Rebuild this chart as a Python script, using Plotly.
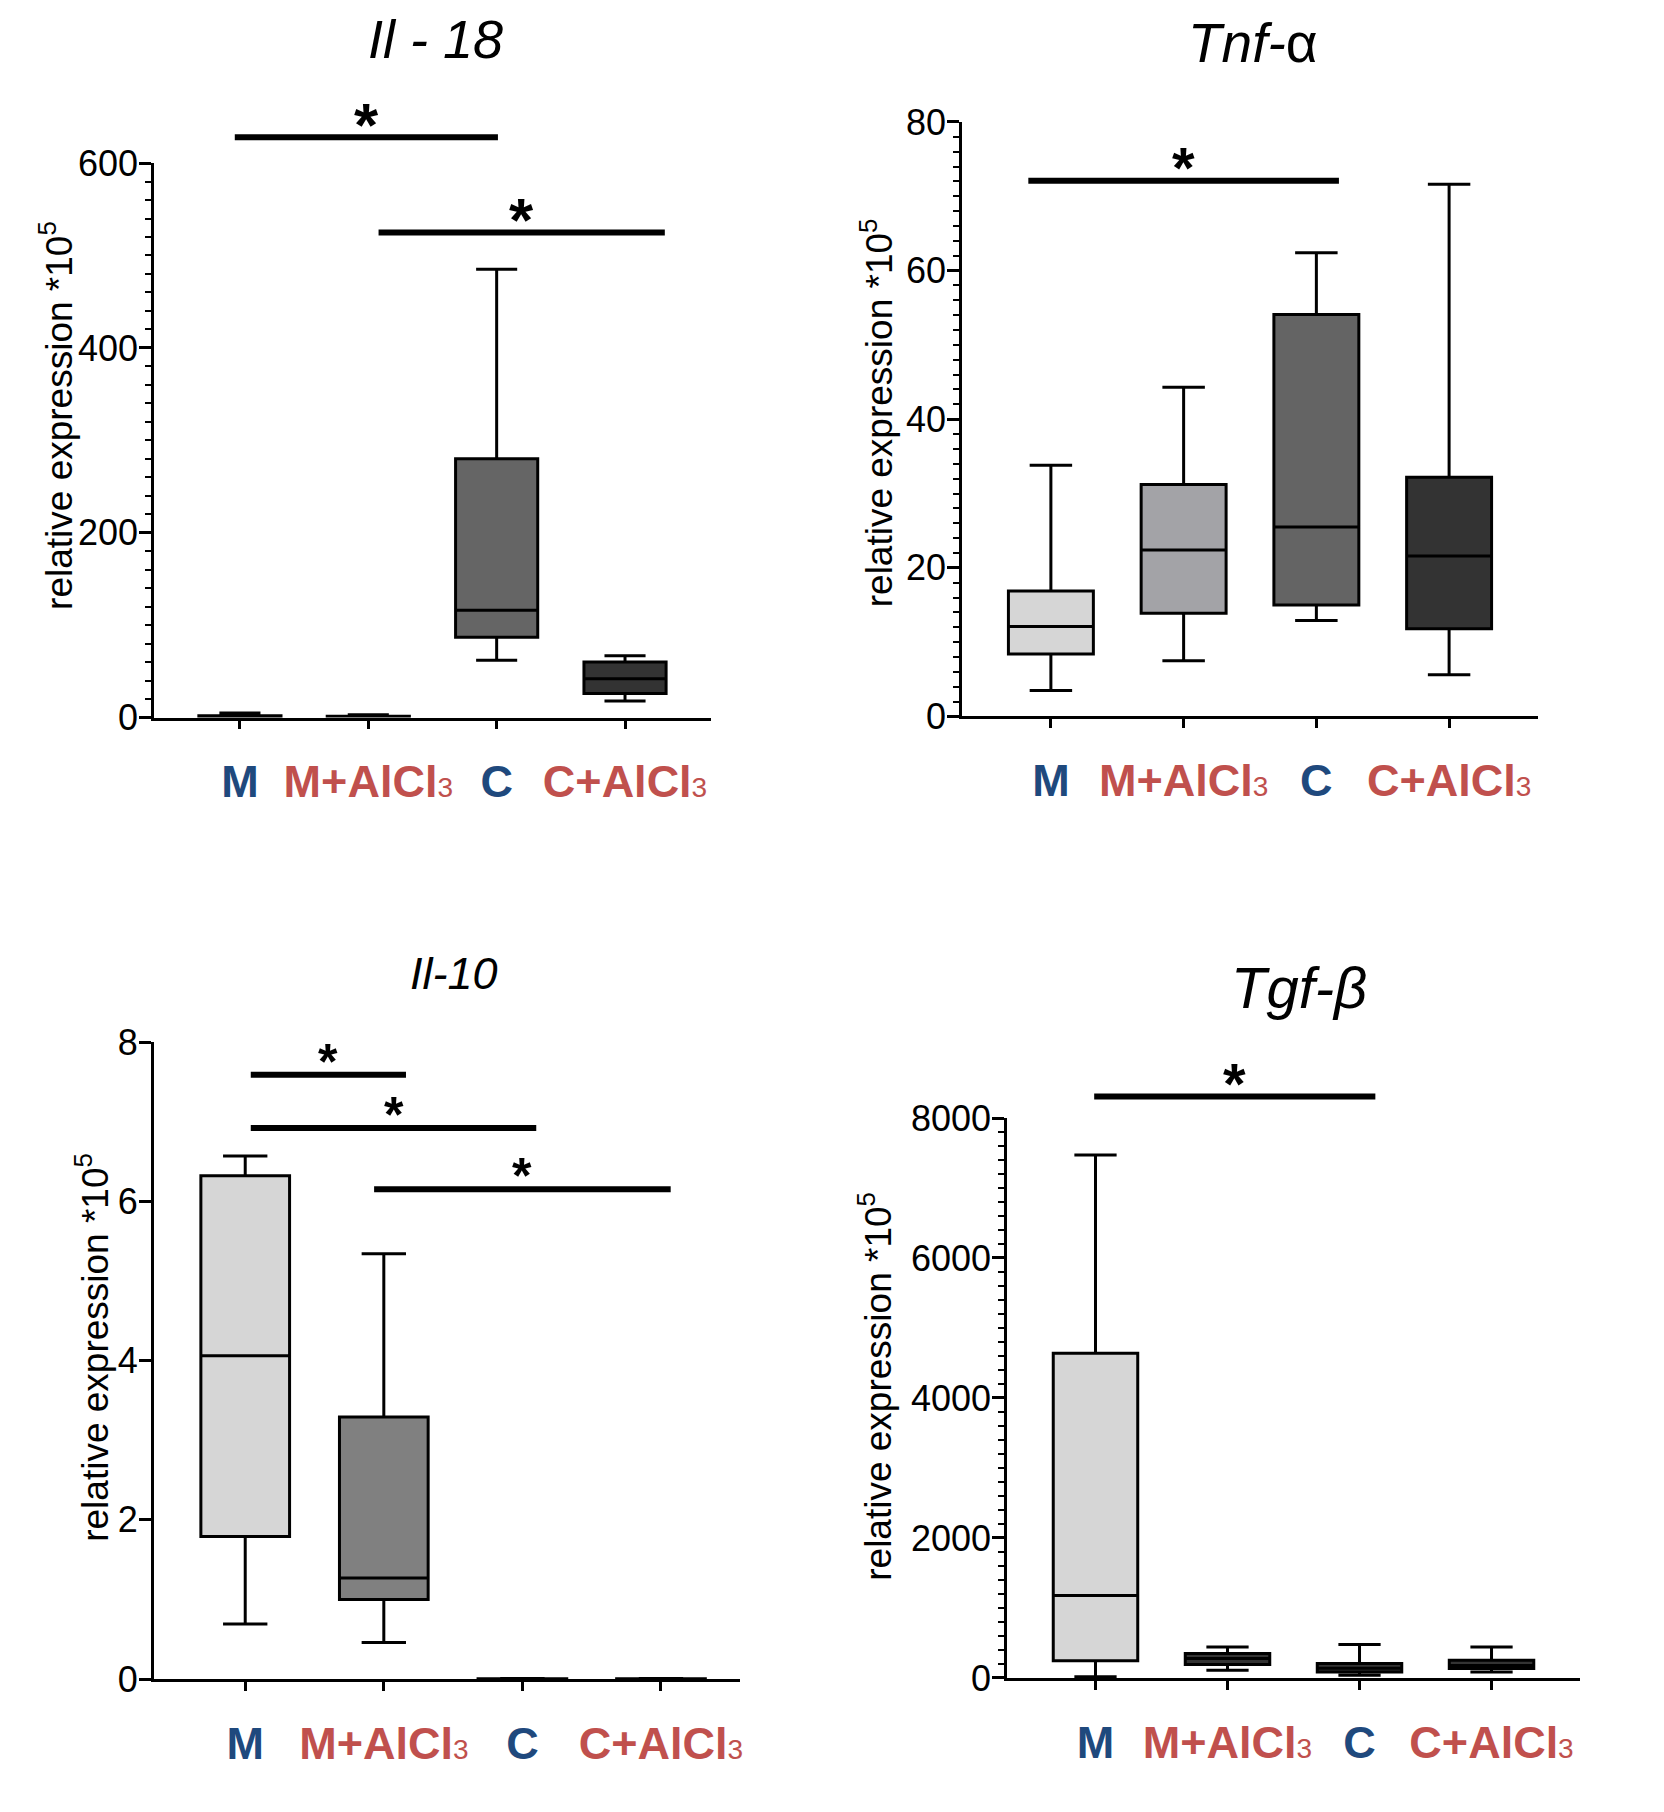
import plotly.graph_objects as go

FONT = "Liberation Sans, Arial, sans-serif"

# ---------------- data ----------------
groups = ["M", "M+AlCl3", "C", "C+AlCl3"]
group_label_colors = ["#1F497D", "#C0504D", "#1F497D", "#C0504D"]
positions = [0, 1, 2, 3]
y_title = "relative expression *10<sup>5</sup>"

# Il-18
il18_lower = [0.3, 0.2, 62, 18]
il18_q1 = [0.6, 0.5, 87, 26]
il18_median = [1.2, 0.9, 116, 42]
il18_q3 = [2.0, 1.3, 280, 60]
il18_upper = [5.0, 3.0, 485, 67]
il18_fill = ["#d4d4d4", "#9f9fa3", "#656565", "#333333"]
il18_sig_x0 = [-0.04, 1.08]
il18_sig_x1 = [2.01, 3.31]
il18_sig_y = [628, 525]

# Tnf-alpha
tnf_lower = [3.5, 7.5, 12.9, 5.6]
tnf_q1 = [8.4, 13.9, 15.0, 11.8]
tnf_median = [12.1, 22.4, 25.5, 21.6]
tnf_q3 = [16.9, 31.2, 54.1, 32.2]
tnf_upper = [33.8, 44.3, 62.4, 71.6]
tnf_fill = ["#d6d6d6", "#a3a3a7", "#646464", "#333333"]
tnf_sig_x0 = [-0.17]
tnf_sig_x1 = [2.17]
tnf_sig_y = [72.1]

# Il-10
il10_lower = [0.69, 0.46, 0.001, 0.001]
il10_q1 = [1.79, 1.0, 0.002, 0.002]
il10_median = [4.06, 1.27, 0.003, 0.003]
il10_q3 = [6.32, 3.29, 0.004, 0.004]
il10_upper = [6.57, 5.34, 0.006, 0.006]
il10_fill = ["#d6d6d6", "#808080", "#333333", "#333333"]
il10_sig_x0 = [0.04, 0.04, 0.93]
il10_sig_x1 = [1.16, 2.10, 3.07]
il10_sig_y = [7.59, 6.92, 6.15]

# Tgf-beta
tgf_lower = [16, 110, 38, 86]
tgf_q1 = [244, 191, 86, 133]
tgf_median = [1178, 276, 138, 176]
tgf_q3 = [4638, 348, 205, 253]
tgf_upper = [7472, 443, 476, 443]
tgf_fill = ["#d6d6d6", "#333333", "#333333", "#333333"]
tgf_sig_x0 = [-0.01]
tgf_sig_x1 = [2.12]
tgf_sig_y = [8309]

panels = [
    dict(title="<i>Il - 18</i>", tsize=54, tx=0.505, ty=0.9785, lower=il18_lower, q1=il18_q1,
         med=il18_median, q3=il18_q3, upper=il18_upper, fill=il18_fill, top=600, dtick=200, minor=20,
         sx0=il18_sig_x0, sx1=il18_sig_x1, sy=il18_sig_y, star=62, ytx=57 / 1664, yty=0.544,
         xdom=[0.0925, 0.4273], xr=[-0.67, 3.67], ydom=[0.6040, 0.9100]),
    dict(title="<i>Tnf-</i>α", tsize=55, tx=0.505, ty=0.9763, lower=tnf_lower, q1=tnf_q1,
         med=tnf_median, q3=tnf_q3, upper=tnf_upper, fill=tnf_fill, top=80, dtick=20, minor=2,
         sx0=tnf_sig_x0, sx1=tnf_sig_x1, sy=tnf_sig_y, star=58, ytx=877 / 1664, yty=0.51,
         xdom=[0.5781, 0.9243], xr=[-0.67, 3.67], ydom=[0.6046, 0.9327]),
    dict(title="<i>Il-10</i>", tsize=45, tx=0.513, ty=0.4627, lower=il10_lower, q1=il10_q1,
         med=il10_median, q3=il10_q3, upper=il10_upper, fill=il10_fill, top=8, dtick=2, minor=None,
         sx0=il10_sig_x0, sx1=il10_sig_x1, sy=il10_sig_y, star=50, ytx=93 / 1664, yty=0.52,
         xdom=[0.0924, 0.4447], xr=[-0.66, 3.57], ydom=[0.0734, 0.4249]),
    dict(title="<i>Tgf-β</i>", tsize=58, tx=0.51, ty=0.4550, lower=tgf_lower, q1=tgf_q1,
         med=tgf_median, q3=tgf_q3, upper=tgf_upper, fill=tgf_fill, top=8000, dtick=2000, minor=200,
         sx0=tgf_sig_x0, sx1=tgf_sig_x1, sy=tgf_sig_y, star=58, ytx=876 / 1664, yty=0.52,
         xdom=[0.6052, 0.9495], xr=[-0.67, 3.67], ydom=[0.0740, 0.3830]),
]


def tick_label(name, color):
    if name.endswith("3"):
        return (f'<b style="color:{color}">{name[:-1]}</b>'
                f'<span style="color:{color};font-size:28px">3</span>')
    return f'<b style="color:{color}">{name}</b>'


ticktext = [tick_label(g, c) for g, c in zip(groups, group_label_colors)]

fig = go.Figure()
shapes = []
annotations = []
layout_axes = {}

for i, p in enumerate(panels):
    n = "" if i == 0 else str(i + 1)
    xa, ya = "x" + n, "y" + n
    for k in range(len(groups)):
        fig.add_trace(go.Box(
            x=[positions[k]], q1=[p["q1"][k]], median=[p["med"][k]], q3=[p["q3"][k]],
            lowerfence=[p["lower"][k]], upperfence=[p["upper"][k]],
            fillcolor=p["fill"][k], line=dict(color="black", width=3),
            whiskerwidth=0.5, width=0.64, boxpoints=False,
            xaxis=xa, yaxis=ya, showlegend=False, hoverinfo="skip"))
    yaxis = dict(
        domain=p["ydom"], anchor=xa, range=[0, p["top"]], dtick=p["dtick"], tick0=0,
        showline=True, linecolor="black", linewidth=2.5, ticks="outside", ticklen=12,
        tickwidth=2.5, tickcolor="black", showgrid=False, zeroline=False, automargin=False,
        ticklabelstandoff=-6, tickfont=dict(family=FONT, size=36, color="black"),
    )
    if p["minor"]:
        yaxis["minor"] = dict(dtick=p["minor"], tick0=0, ticks="outside", ticklen=6,
                              tickwidth=2, tickcolor="black", showgrid=False)
    xaxis = dict(
        domain=p["xdom"], anchor=ya, range=p["xr"], tickvals=positions, ticktext=ticktext,
        showline=True, linecolor="black", linewidth=2.5, ticks="outside", ticklen=9,
        tickwidth=2.5, tickcolor="black", showgrid=False, zeroline=False, automargin=False,
        ticklabelstandoff=14, tickfont=dict(family=FONT, size=45),
    )
    layout_axes["xaxis" + n] = xaxis
    layout_axes["yaxis" + n] = yaxis

    annotations.append(dict(text=p["title"], xref=xa + " domain", x=p["tx"], yref="paper", y=p["ty"],
                            showarrow=False, xanchor="center", yanchor="middle",
                            font=dict(family=FONT, size=p["tsize"], color="black")))
    annotations.append(dict(text=y_title, xref="paper", x=p["ytx"], yref=ya + " domain", y=p["yty"],
                            textangle=-90, showarrow=False, xanchor="center", yanchor="middle",
                            font=dict(family=FONT, size=37, color="black")))
    for x0, x1, yv in zip(p["sx0"], p["sx1"], p["sy"]):
        yd = yv / p["top"]
        shapes.append(dict(type="line", xref=xa, yref=ya + " domain", x0=x0, x1=x1, y0=yd, y1=yd,
                           line=dict(color="black", width=6)))
        annotations.append(dict(text="<b>*</b>", xref=xa, x=(x0 + x1) / 2, yref=ya + " domain", y=yd,
                                showarrow=False, xanchor="center", yanchor="middle", yshift=13,
                                font=dict(family=FONT, size=p["star"], color="black")))

fig.update_layout(
    template="none",
    width=1664, height=1812, margin=dict(l=0, r=0, t=0, b=0, pad=0, autoexpand=False),
    paper_bgcolor="white", plot_bgcolor="white", showlegend=False,
    shapes=shapes, annotations=annotations, **layout_axes,
)

post = (
    "document.documentElement.style.margin='0';document.documentElement.style.padding='0';"
    "document.body.style.margin='0';document.body.style.padding='0';"
    "document.documentElement.style.overflow='hidden';document.body.style.overflow='hidden';"
    "var d=document.getElementsByClassName('plotly-graph-div')[0];"
    "d.style.position='absolute';d.style.top='0px';d.style.left='0px';"
)

fig.write_html("out.html", config={"displayModeBar": False}, post_script=post)
